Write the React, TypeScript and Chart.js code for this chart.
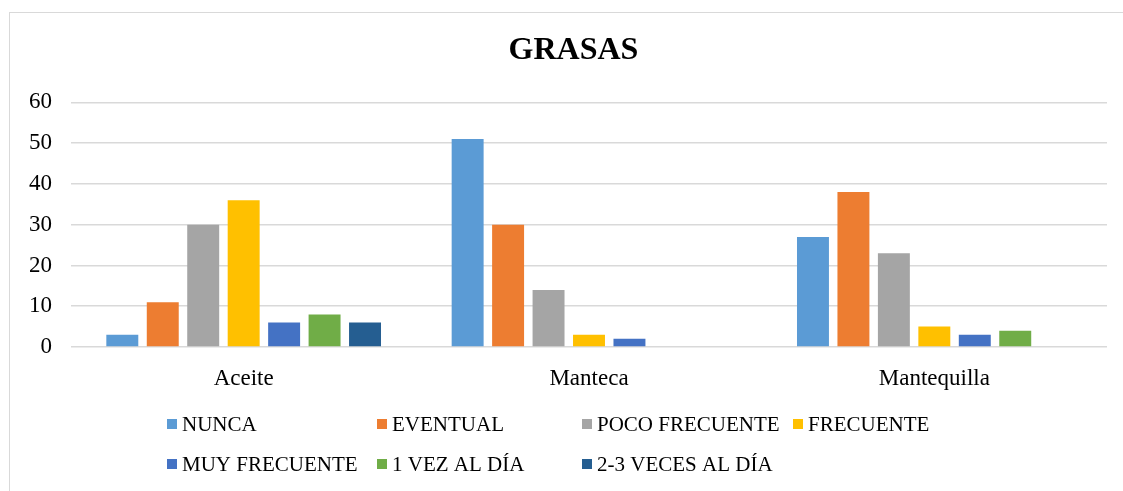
import React, { useEffect, useRef } from "react";
import { Chart, registerables } from "chart.js";

Chart.register(...registerables);

const categories = ["Aceite", "Manteca", "Mantequilla"];
const seriesNames = [
  "NUNCA",
  "EVENTUAL",
  "POCO FRECUENTE",
  "FRECUENTE",
  "MUY FRECUENTE",
  "1 VEZ AL DÍA",
  "2-3 VECES AL DÍA",
];
const nunca = [3, 51, 27];
const eventual = [11, 30, 38];
const pocoFrecuente = [30, 14, 23];
const frecuente = [36, 3, 5];
const muyFrecuente = [6, 2, 3];
const unaVez = [8, 0, 4];
const dosTres = [6, 0, 0];
const seriesValues = [nunca, eventual, pocoFrecuente, frecuente, muyFrecuente, unaVez, dosTres];
const seriesColors = ["#5B9BD5", "#ED7D31", "#A5A5A5", "#FFC000", "#4472C4", "#70AD47", "#255E91"];
const yTicks = [0, 10, 20, 30, 40, 50, 60];

const FONT = "'Liberation Serif', 'Times New Roman', serif";

const legendPlugin = {
  id: "gridLegend",
  afterLayout(chart: any) {
    // let the y tick labels use the left margin (avoid label clipping)
    if (chart.scales.y) chart.scales.y.left = 0;
  },
  afterDraw(chart: any) {
    const ctx = chart.ctx;
    const cols = [167, 377, 582, 793];
    const rows = [424, 464];
    const layout = [
      [0, 0], [0, 1], [0, 2], [0, 3],
      [1, 0], [1, 1], [1, 2],
    ];
    ctx.save();
    ctx.font = `21px ${FONT}`;
    ctx.textBaseline = "middle";
    ctx.textAlign = "left";
    chart.data.datasets.forEach((ds: any, i: number) => {
      const [r, c] = layout[i];
      const x = cols[c];
      const y = rows[r];
      ctx.fillStyle = ds.backgroundColor;
      ctx.fillRect(x, y - 5, 10, 10);
      ctx.fillStyle = "#000";
      ctx.fillText(ds.label, x + 15, y + 1);
    });
    ctx.restore();
  },
};

export default function App() {
  const ref = useRef<HTMLCanvasElement | null>(null);
  useEffect(() => {
    document.body.style.margin = "0";
    const chart = new Chart(ref.current as HTMLCanvasElement, {
      type: "bar",
      data: {
        labels: categories,
        datasets: seriesNames.map((name, i) => ({
          label: name,
          data: seriesValues[i],
          backgroundColor: seriesColors[i],
          borderWidth: 0,
          categoryPercentage: 0.82,
          barPercentage: 0.79,
        })),
      },
      options: {
        animation: false,
        responsive: false,
        maintainAspectRatio: false,
        layout: { padding: { left: 40, right: 16, top: 0, bottom: 0 } },
        plugins: {
          legend: { display: false },
          tooltip: { enabled: false },
          title: {
            display: true,
            text: "GRASAS",
            color: "#000",
            font: { family: FONT, size: 32, weight: "bold", lineHeight: 1.2 },
            padding: { top: 32, bottom: 32 },
          },
        },
        scales: {
          x: {
            grid: { display: false },
            border: { display: false },
            ticks: { color: "#000", font: { family: FONT, size: 23 }, padding: 10 },
            afterFit: (s: any) => {
              s.height = 144;
            },
          },
          y: {
            min: 0,
            max: 60,
            afterBuildTicks: (s: any) => {
              s.ticks = yTicks.map((v) => ({ value: v }));
            },
            grid: { color: "#d9d9d9", lineWidth: 1.5, drawTicks: false },
            border: { display: false },
            ticks: { color: "#000", font: { family: FONT, size: 23 }, padding: 19 },
            afterFit: (s: any) => {
              s.width = 31;
            },
          },
        },
      },
      plugins: [legendPlugin],
    } as any);
    return () => chart.destroy();
  }, []);
  return (
    <div style={{ position: "relative", width: 1123, height: 491, overflow: "hidden", background: "#fff" }}>
      <div
        style={{
          position: "absolute",
          left: 9,
          top: 12,
          width: 1200,
          height: 600,
          border: "1.5px solid #d9d9d9",
          boxSizing: "border-box",
        }}
      />
      <canvas ref={ref} width={1123} height={491} style={{ position: "absolute", left: 0, top: 0, display: "block" }} />
    </div>
  );
}
